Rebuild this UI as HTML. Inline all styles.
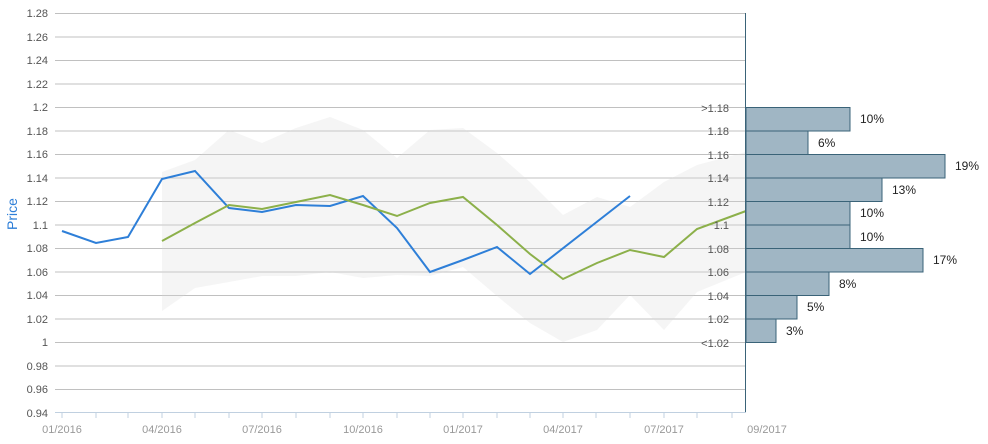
<!DOCTYPE html>
<html><head><meta charset="utf-8"><style>
body{margin:0;background:#fff;}
svg text{font-family:"Liberation Sans",sans-serif;}
</style></head><body>
<svg width="988" height="439" viewBox="0 0 988 439" xmlns="http://www.w3.org/2000/svg">
<g stroke="#c0c0c0" stroke-width="1">
<line x1="55" x2="746" y1="13.5" y2="13.5"/><line x1="55" x2="746" y1="37" y2="37"/><line x1="55" x2="746" y1="60.5" y2="60.5"/><line x1="55" x2="746" y1="84" y2="84"/><line x1="55" x2="746" y1="107.5" y2="107.5"/><line x1="55" x2="746" y1="131" y2="131"/><line x1="55" x2="746" y1="154.5" y2="154.5"/><line x1="55" x2="746" y1="178" y2="178"/><line x1="55" x2="746" y1="201.5" y2="201.5"/><line x1="55" x2="746" y1="225" y2="225"/><line x1="55" x2="746" y1="248.5" y2="248.5"/><line x1="55" x2="746" y1="272" y2="272"/><line x1="55" x2="746" y1="295.5" y2="295.5"/><line x1="55" x2="746" y1="319" y2="319"/><line x1="55" x2="746" y1="342.5" y2="342.5"/><line x1="55" x2="746" y1="366" y2="366"/><line x1="55" x2="746" y1="389.5" y2="389.5"/>
</g>
<line x1="55" x2="746" y1="412.5" y2="412.5" stroke="#c0d0e0"/>
<g stroke="#c0d0e0"><line x1="62" x2="62" y1="412" y2="418"/><line x1="96" x2="96" y1="412" y2="418"/><line x1="128" x2="128" y1="412" y2="418"/><line x1="162" x2="162" y1="412" y2="418"/><line x1="195" x2="195" y1="412" y2="418"/><line x1="229" x2="229" y1="412" y2="418"/><line x1="262" x2="262" y1="412" y2="418"/><line x1="296" x2="296" y1="412" y2="418"/><line x1="330" x2="330" y1="412" y2="418"/><line x1="363" x2="363" y1="412" y2="418"/><line x1="397" x2="397" y1="412" y2="418"/><line x1="430" x2="430" y1="412" y2="418"/><line x1="463" x2="463" y1="412" y2="418"/><line x1="497" x2="497" y1="412" y2="418"/><line x1="530" x2="530" y1="412" y2="418"/><line x1="563" x2="563" y1="412" y2="418"/><line x1="596" x2="596" y1="412" y2="418"/><line x1="630" x2="630" y1="412" y2="418"/><line x1="664" x2="664" y1="412" y2="418"/><line x1="697" x2="697" y1="412" y2="418"/><line x1="732" x2="732" y1="412" y2="418"/></g>
<polygon fill="#d8d8d8" fill-opacity="0.25" points="162,172 195,160 229,130 262,143 296,128 330,117 363,130 397,158 430,130 463,128 497,153 530,182 563,215 597,197 630,207 664,182 697,165 746,152 746,272 697,292 664,330 630,295 597,330 563,342 530,323 497,296 463,267 430,276 397,275 363,278 330,272 296,276 262,276 229,282 195,288 162,311"/>
<polyline fill="none" stroke="#2e7fd8" stroke-width="2" points="62,231 96,243 128,237 162,179 195,171 229,208 262,212 296,205 330,206 363,196 397,228 430,272 463,260 497,247 530,274 630,196"/>
<polyline fill="none" stroke="#8cb04a" stroke-width="2" points="162,241 195,223 229,205 262,209 296,202 330,195 363,205 397,216 430,203 463,197 497,225 530,254 563,279 597,263 630,250 664,257 697,229 746,211"/>
<g fill="#a0b6c4" stroke="#3a6378" stroke-width="1">
<rect x="746" y="107.5" width="104" height="23.5"/><rect x="746" y="131" width="62" height="23.5"/><rect x="746" y="154.5" width="199" height="23.5"/><rect x="746" y="178" width="136" height="23.5"/><rect x="746" y="201.5" width="104" height="23.5"/><rect x="746" y="225" width="104" height="23.5"/><rect x="746" y="248.5" width="177" height="23.5"/><rect x="746" y="272" width="83" height="23.5"/><rect x="746" y="295.5" width="51" height="23.5"/><rect x="746" y="319" width="30" height="23.5"/>
</g>
<line x1="745.5" x2="745.5" y1="13" y2="412" stroke="#3a6378"/>
<g font-size="12" fill="#222">
<text x="860" y="123">10%</text><text x="818" y="147">6%</text><text x="955" y="170">19%</text><text x="892" y="194">13%</text><text x="860" y="217">10%</text><text x="860" y="241">10%</text><text x="933" y="264">17%</text><text x="839" y="288">8%</text><text x="807" y="311">5%</text><text x="786" y="335">3%</text>
</g>
<g font-size="11" fill="#555" text-anchor="end">
<text x="48" y="17">1.28</text><text x="48" y="41">1.26</text><text x="48" y="64">1.24</text><text x="48" y="88">1.22</text><text x="48" y="111">1.2</text><text x="48" y="135">1.18</text><text x="48" y="158">1.16</text><text x="48" y="182">1.14</text><text x="48" y="205">1.12</text><text x="48" y="229">1.1</text><text x="48" y="252">1.08</text><text x="48" y="276">1.06</text><text x="48" y="299">1.04</text><text x="48" y="323">1.02</text><text x="48" y="346">1</text><text x="48" y="370">0.98</text><text x="48" y="393">0.96</text><text x="48" y="417">0.94</text>
<text x="729" y="112">&gt;1.18</text><text x="729" y="135">1.18</text><text x="729" y="159">1.16</text><text x="729" y="182">1.14</text><text x="729" y="206">1.12</text><text x="729" y="229">1.1</text><text x="729" y="253">1.08</text><text x="729" y="276">1.06</text><text x="729" y="300">1.04</text><text x="729" y="323">1.02</text><text x="729" y="347">&lt;1.02</text>
</g>
<g font-size="11" fill="#999" text-anchor="middle">
<text x="62" y="433">01/2016</text><text x="162" y="433">04/2016</text><text x="262" y="433">07/2016</text><text x="363" y="433">10/2016</text><text x="463" y="433">01/2017</text><text x="563" y="433">04/2017</text><text x="664" y="433">07/2017</text><text x="767" y="433">09/2017</text>
</g>
<text x="17" y="214" font-size="14" fill="#2e7fd8" text-anchor="middle" transform="rotate(-90 17 214)">Price</text>
</svg>
</body></html>
